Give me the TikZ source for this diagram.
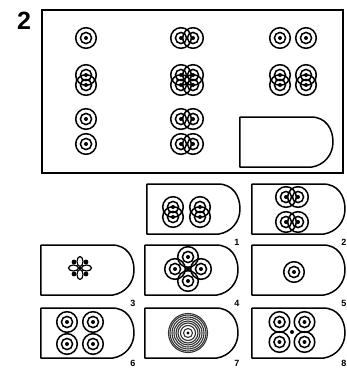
\documentclass[tikz,border=0pt]{standalone}
\usepackage{fontspec}
\setsansfont{Liberation Sans}
\usepackage{tikz}

\begin{document}
\begin{tikzpicture}[x=1pt, y=-1pt,
  frame/.style={line width=1.8pt},
  edge/.style={line width=1.5pt, line join=round},
  ring/.style={line width=1.5pt},
  lab/.style={font=\sffamily\bfseries\small, inner sep=0pt},
  unit/.pic={\draw[ring] (0,0) circle (10.3) (0,0) circle (5.6); \fill (0,0) circle (2);},
  hpair/.pic={\pic at (-6,0) {unit}; \pic at (6,0) {unit};},
  vpair/.pic={\pic at (0,-5) {unit}; \pic at (0,5) {unit};},
  quad/.pic={\pic at (0,-5) {hpair}; \pic at (0,5) {hpair};},
  card/.pic={\draw[edge] (0,0) -- (71,0) .. controls (86,0) and (93,12) .. (93,25)
      .. controls (93,38) and (84,48) .. (72,50) -- (0,50) -- cycle;}]
  \useasboundingbox (0,0) rectangle (347,368);

  % the matrix
  \node[font=\sffamily\bfseries\fontsize{25}{25}\selectfont, inner sep=0pt] (num) at (24,21) {2};
  \draw[frame] (42,10) rectangle (343,173);
  \pic at (86,38) {unit};
  \pic at (187,38) {hpair};
  \pic at (280,38) {unit};
  \pic at (306,38) {unit};
  \pic at (86,80) {vpair};
  \pic at (187,80) {quad};
  \pic at (280,80) {vpair};
  \pic at (306,80) {vpair};
  \pic at (86,119) {unit};
  \pic at (86,144) {unit};
  \pic at (187,119) {hpair};
  \pic at (187,144) {hpair};
  \pic at (240,117) {card};

  % the answers
  \pic at (147,184) {card};
  \pic at (173,212) {vpair};
  \pic at (200,212) {vpair};
  \node[lab] (n1) at (237,242) {1};

  \pic at (252,184) {card};
  \pic at (292,197) {hpair};
  \pic at (292,222) {hpair};
  \node[lab] (n2) at (344,242) {2};

  \pic at (41,245) {card};
  \begin{scope}[shift={(80,268)}]
    \foreach \a in {0,90,180,270}
      \draw[line width=1.2pt, rotate=\a] (6.5,0) ellipse (5 and 3);
    \foreach \a in {45,135,225,315}
      \fill (\a:8.5) circle (2.4);
    \fill (0,0) circle (1.5);
  \end{scope}
  \node[lab] (n3) at (133,303) {3};

  \pic at (145,245) {card};
  \pic at (175,269) {unit};
  \pic at (201,269) {unit};
  \pic at (188,257) {unit};
  \pic at (188,281) {unit};
  \fill (188,269) circle (2);
  \node[lab] (n4) at (237,303) {4};

  \pic at (252,245) {card};
  \pic at (294,272) {unit};
  \node[lab] (n5) at (344,303) {5};

  \pic at (41,308) {card};
  \pic at (67,322) {unit};
  \pic at (93,322) {unit};
  \pic at (67,344) {unit};
  \pic at (93,344) {unit};
  \node[lab] (n6) at (133,363) {6};

  \pic at (145,308) {card};
  \foreach \r in {4.5,7.5,10,12,14,16,18,19.5}
    \draw[line width=1.1pt, black!80] (188,333) circle (\r);
  \fill (188,333) circle (1.6);
  \node[lab] (n7) at (237,363) {7};

  \pic at (252,308) {card};
  \pic at (279.5,322) {unit};
  \pic at (304.5,322) {unit};
  \pic at (279.5,342) {unit};
  \pic at (304.5,342) {unit};
  \fill (292,332) circle (2);
  \node[lab] (n8) at (344,363) {8};
\end{tikzpicture}
\end{document}
